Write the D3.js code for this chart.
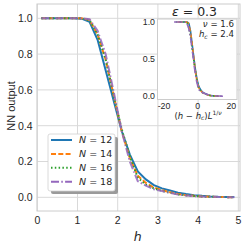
<!DOCTYPE html>
<html>
<head>
<meta charset="utf-8">
<script src="https://cdn.jsdelivr.net/npm/d3@7"></script>
<style>
  body { margin: 0; background: #fff; }
  svg { display: block; }
</style>
</head>
<body>
<svg id="chart" width="249" height="249"></svg>
<script>
// data
var hValues = [0.1, 0.3, 0.5, 0.7, 0.9, 1.1, 1.3, 1.5, 1.7, 1.9, 2.1, 2.3, 2.5,
               2.7, 2.9, 3.1, 3.3, 3.5, 3.7, 3.9, 4.1, 4.3, 4.5, 4.7, 4.9];
var out12 = [1, 1, 1, 1, 1, 0.998, 0.98, 0.88, 0.71, 0.54, 0.37, 0.24, 0.145,
             0.10, 0.068, 0.05, 0.038, 0.026, 0.018, 0.012, 0.008, 0.005, 0.003, 0.002, 0.001];
var out14 = [1, 1, 1, 1, 1, 1, 0.99, 0.91, 0.77, 0.57, 0.37, 0.22, 0.12,
             0.08, 0.055, 0.04, 0.028, 0.018, 0.012, 0.008, 0.005, 0.003, 0.002, 0.001, 0];
var out16 = [1, 1, 1, 1, 1, 1, 0.99, 0.91, 0.77, 0.57, 0.38, 0.23, 0.11,
             0.07, 0.05, 0.036, 0.026, 0.016, 0.011, 0.007, 0.004, 0.003, 0.002, 0.001, 0];
var out18 = [1, 1, 1, 1, 1, 1, 0.995, 0.93, 0.80, 0.59, 0.37, 0.20, 0.09,
             0.065, 0.045, 0.035, 0.025, 0.015, 0.01, 0.006, 0.004, 0.003, 0.002, 0.001, 0];
var sizes = [12, 14, 16, 18];
var xTicks = [0, 1, 2, 3, 4, 5];
var yTicks = [0, 0.2, 0.4, 0.6, 0.8, 1.0];
var insetXTicks = [-20, 0, 20];
var insetYTicks = [0, 0.5, 1.0];
var nu = 1.6, hc = 2.4, eps = 0.3;

var series = [out12, out14, out16, out18];
var colors = ["#1f77b4", "#ff7f0e", "#2ca02c", "#9467bd"];
var dashes = [null, "5,2.3", "1.5,2.3", "8,2.3,1.5,2.3"];

var svg = d3.select("#chart");
var font = "'Liberation Sans', Arial, sans-serif";
var mathFont = "'DejaVu Sans', sans-serif";

// main axes
var box = {left: 37, right: 240, top: 4, bottom: 211};
var x = d3.scaleLinear().domain([0, 5]).range([37.3, 238.3]);
var y = d3.scaleLinear().domain([0, 1]).range([197.3, 18.3]);

svg.append("clipPath").attr("id", "clipMain")
  .append("rect").attr("x", box.left).attr("y", box.top)
  .attr("width", box.right - box.left).attr("height", box.bottom - box.top);

var grid = svg.append("g").attr("stroke", "#d9d9d9").attr("stroke-width", 1);
xTicks.forEach(function(t) {
  grid.append("line").attr("x1", x(t)).attr("x2", x(t))
    .attr("y1", box.top).attr("y2", box.bottom);
});
yTicks.forEach(function(t) {
  grid.append("line").attr("x1", box.left).attr("x2", box.right)
    .attr("y1", y(t)).attr("y2", y(t));
});
svg.append("rect").attr("x", box.left).attr("y", box.top)
  .attr("width", box.right - box.left).attr("height", box.bottom - box.top)
  .attr("fill", "none").attr("stroke", "#cccccc").attr("stroke-width", 1);

xTicks.forEach(function(t) {
  svg.append("text").attr("x", x(t)).attr("y", 223.5)
    .attr("text-anchor", "middle").attr("font-family", font).attr("font-size", 10.5)
    .attr("fill", "#262626").text(t);
});
yTicks.forEach(function(t) {
  svg.append("text").attr("x", 32.5).attr("y", y(t) + 3.8)
    .attr("text-anchor", "end").attr("font-family", font).attr("font-size", 10.5)
    .attr("fill", "#262626").text(d3.format(".1f")(t));
});
svg.append("text").attr("x", x(2.5)).attr("y", 241)
  .attr("text-anchor", "middle").attr("font-family", mathFont).attr("font-size", 12.5)
  .attr("font-style", "italic").attr("fill", "#262626").text("h");
svg.append("text").attr("transform", "translate(15,106) rotate(-90)")
  .attr("text-anchor", "middle").attr("font-family", font).attr("font-size", 11)
  .attr("fill", "#262626").text("NN output");

var line = d3.line().x(function(d) { return x(d[0]); }).y(function(d) { return y(d[1]); });
var curves = svg.append("g").attr("clip-path", "url(#clipMain)");
series.forEach(function(s, i) {
  curves.append("path").datum(hValues.map(function(h, j) { return [h, s[j]]; }))
    .attr("d", line).attr("fill", "none").attr("stroke", colors[i])
    .attr("stroke-width", 2).attr("stroke-dasharray", dashes[i])
    .attr("stroke-opacity", i == 3 ? 0.85 : 1);
});

// legend
var lg = svg.append("g");
lg.append("rect").attr("x", 51).attr("y", 137).attr("width", 67).attr("height", 57)
  .attr("rx", 2).attr("fill", "#9a9a9a");
lg.append("rect").attr("x", 48).attr("y", 134).attr("width", 67).attr("height", 57)
  .attr("rx", 2).attr("fill", "#fff").attr("stroke", "#d0d0d0").attr("stroke-width", 0.8);
sizes.forEach(function(n, i) {
  var ly = 140 + i * 13.9;
  lg.append("line").attr("x1", 51).attr("x2", 72).attr("y1", ly).attr("y2", ly)
    .attr("stroke", colors[i]).attr("stroke-width", 2).attr("stroke-dasharray", dashes[i]);
  var t = lg.append("text").attr("x", 79).attr("y", ly + 3.4)
    .attr("font-family", mathFont).attr("font-size", 9.5).attr("fill", "#262626");
  t.append("tspan").attr("font-style", "italic").text("N");
  t.append("tspan").text(" = " + n);
});

// inset
var ib = {left: 157.5, right: 237, top: 19, bottom: 99.5};
var ix = d3.scaleLinear().domain([-20, 20]).range([164, 231.3]);
var iy = d3.scaleLinear().domain([0, 1]).range([96.2, 22]);
svg.append("text").attr("x", 194.5).attr("y", 16)
  .attr("text-anchor", "middle").attr("font-family", mathFont).attr("font-size", 12.5)
  .attr("fill", "#262626")
  .call(function(t) {
    t.append("tspan").attr("font-style", "italic").text("\u03b5");
    t.append("tspan").text(" = " + eps);
  });
svg.append("rect").attr("x", ib.left).attr("y", ib.top)
  .attr("width", ib.right - ib.left).attr("height", ib.bottom - ib.top)
  .attr("fill", "#fff").attr("stroke", "#cccccc").attr("stroke-width", 1);
svg.append("clipPath").attr("id", "clipInset")
  .append("rect").attr("x", ib.left).attr("y", ib.top)
  .attr("width", ib.right - ib.left).attr("height", ib.bottom - ib.top);

insetXTicks.forEach(function(t) {
  svg.append("text").attr("x", ix(t)).attr("y", 108.5)
    .attr("text-anchor", "middle").attr("font-family", font).attr("font-size", 8.8)
    .attr("fill", "#262626").text(t);
});
insetYTicks.forEach(function(t) {
  svg.append("text").attr("x", 155).attr("y", iy(t) + 3.1)
    .attr("text-anchor", "end").attr("font-family", font).attr("font-size", 8.8)
    .attr("fill", "#262626").text(d3.format(".1f")(t));
});
var xl = svg.append("text").attr("x", 198).attr("y", 118.5).attr("text-anchor", "middle")
  .attr("font-family", mathFont).attr("font-size", 8.5).attr("fill", "#262626");
xl.append("tspan").text("(");
xl.append("tspan").attr("font-style", "italic").text("h");
xl.append("tspan").text(" \u2212 ");
xl.append("tspan").attr("font-style", "italic").text("h");
xl.append("tspan").attr("font-style", "italic").attr("font-size", 6).attr("dy", 1.5).text("c");
xl.append("tspan").attr("dy", -1.5).text(")");
xl.append("tspan").attr("font-style", "italic").text("L");
xl.append("tspan").attr("font-size", 6).attr("dy", -3.5).text("1/");
xl.append("tspan").attr("font-size", 6).attr("font-style", "italic").text("\u03bd");

var nuText = svg.append("text").attr("x", 234).attr("y", 27.3).attr("text-anchor", "end")
  .attr("font-family", mathFont).attr("font-size", 8.6).attr("fill", "#262626");
nuText.append("tspan").attr("font-style", "italic").text("\u03bd");
nuText.append("tspan").text(" = " + nu);
var hcText = svg.append("text").attr("x", 234).attr("y", 37.4).attr("text-anchor", "end")
  .attr("font-family", mathFont).attr("font-size", 8.6).attr("fill", "#262626");
hcText.append("tspan").attr("font-style", "italic").text("h");
hcText.append("tspan").attr("font-style", "italic").attr("font-size", 6).attr("dy", 1.2).text("c");
hcText.append("tspan").attr("dy", -1.2).text(" = " + hc);

var iline = d3.line().x(function(d) { return ix(d[0]); }).y(function(d) { return iy(d[1]); });
var icurves = svg.append("g").attr("clip-path", "url(#clipInset)");
series.forEach(function(s, i) {
  var L = Math.pow(sizes[i], 1 / nu);
  icurves.append("path").datum(hValues.map(function(h, j) { return [(h - hc) * L, s[j]]; }))
    .attr("d", iline).attr("fill", "none").attr("stroke", colors[i])
    .attr("stroke-width", 1.6).attr("stroke-dasharray", dashes[i]);
});
</script>
</body>
</html>
